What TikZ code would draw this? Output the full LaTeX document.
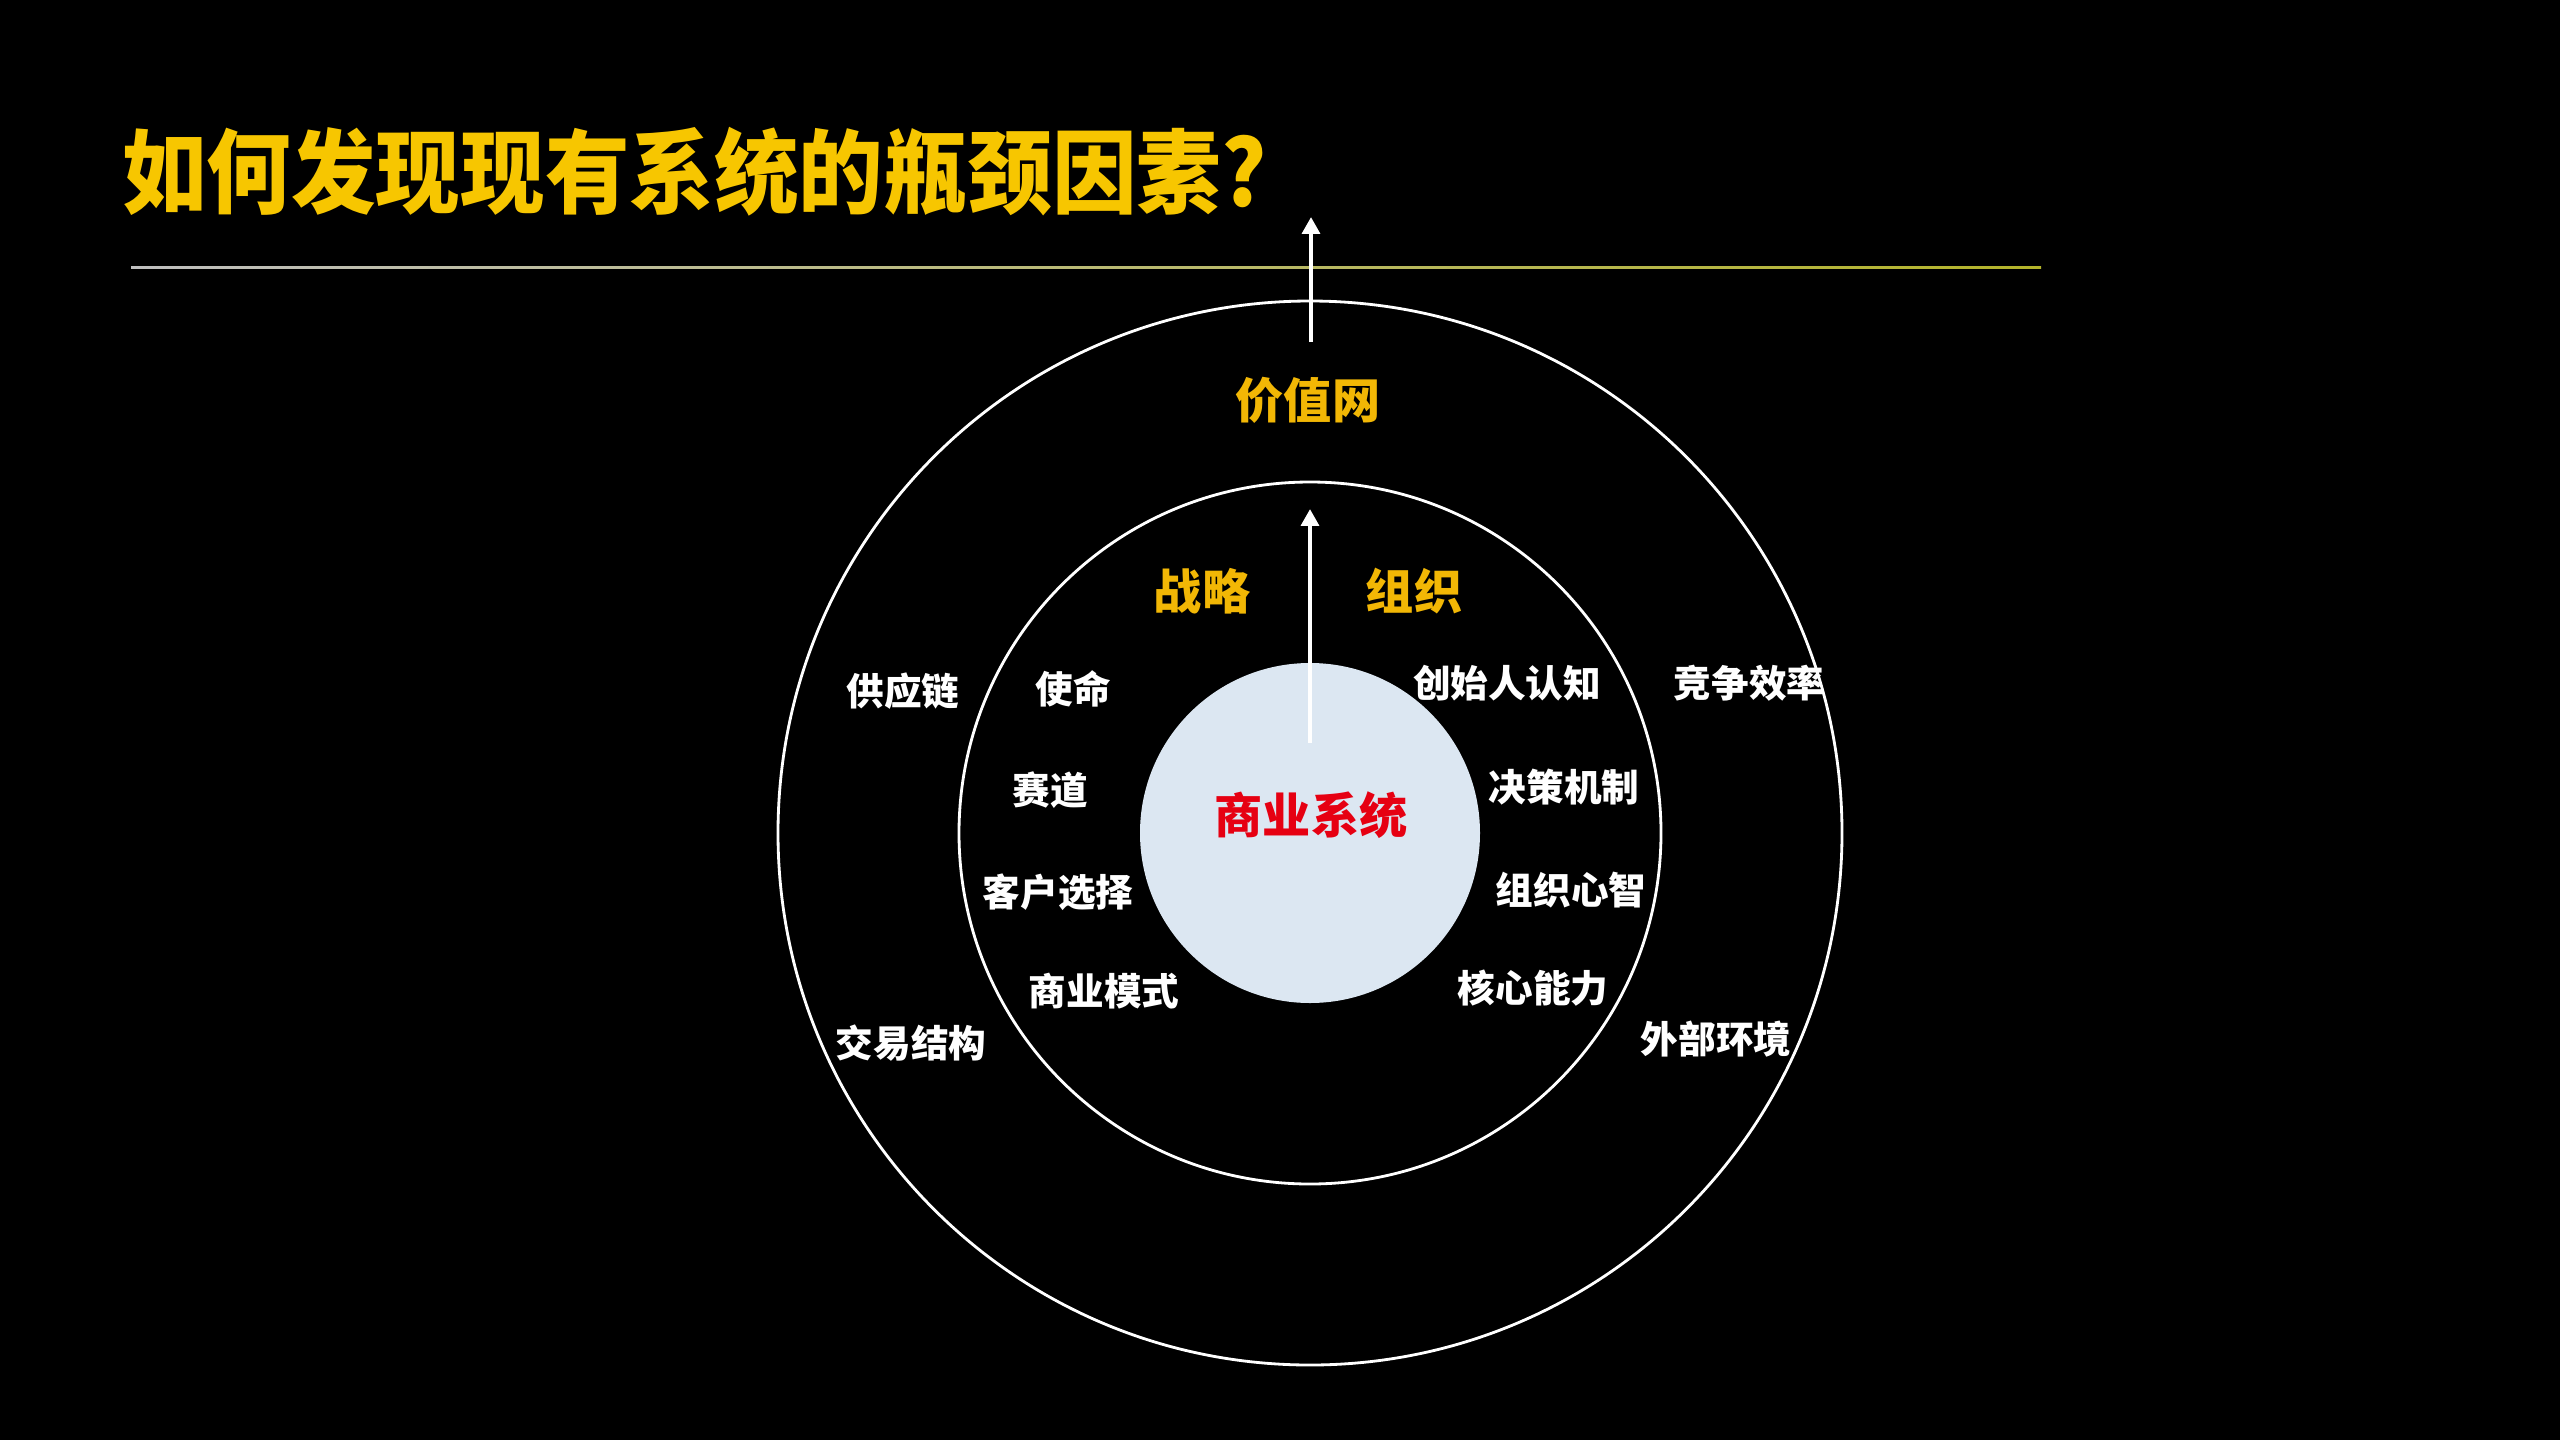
\documentclass[tikz,border=0pt]{standalone}
\usepackage{fontspec}
\setmainfont{Noto Sans CJK SC}
\newfontfamily\titlefont[FakeStretch=0.925]{Noto Sans CJK SC}
\usetikzlibrary{arrows.meta}

\definecolor{titleyellow}{HTML}{F7C600}
\definecolor{labelyellow}{HTML}{F2B705}
\definecolor{corered}{HTML}{E60012}
\definecolor{corefill}{HTML}{DCE7F2}
\definecolor{ruleolive}{HTML}{B4B42A}

\tikzset{
  ring/.style={circle, draw=white, line width=0.8pt, inner sep=0pt},
  whitelabel/.style={text=white, font=\fontsize{10.7}{12}\selectfont\bfseries},
  yellowlabel/.style={text=labelyellow, font=\fontsize{13.7}{15}\selectfont\bfseries},
  uparrow/.style={draw=white, line width=1.4pt, -{Triangle[width=5pt,length=4.8pt]}},
}

\begin{document}
\begin{tikzpicture}

    % Background
    \fill[black] (0,0) rectangle (25.6,-14.4);
    \useasboundingbox (0,0) rectangle (25.6,-14.4);

    % Title
    \node[anchor=west, text=titleyellow, font=\titlefont\fontsize{26}{30}\selectfont\bfseries] (title) at (1.10,-1.72) {如何发现现有系统的瓶颈因素?};
    \shade[left color=white!75!black, right color=ruleolive] (1.31,-2.66) rectangle (20.41,-2.685);

    % ================================
    % Rings

    \node[ring, minimum size=10.64cm] (outer) at (13.10,-8.33) {};
    \node[ring, minimum size=7.02cm] (middle) at (13.10,-8.33) {};
    \node[circle, fill=corefill, inner sep=0pt, minimum size=3.40cm] (core) at (13.10,-8.33) {};
    \node[text=corered, font=\fontsize{13.7}{15}\selectfont\bfseries] (coretext) at (13.11,-8.15) {商业系统};

    % ================================
    % Arrows

    \coordinate (valuebase) at (13.11,-3.42);
    \coordinate (valuetip) at (13.11,-2.17);
    \draw[uparrow] (valuebase) -- (valuetip);

    \coordinate (corebase) at (13.10,-7.43);
    \coordinate (coretip) at (13.10,-5.09);
    \draw[uparrow] (corebase) -- (coretip);

    % ================================
    % Yellow labels

    \node[yellowlabel] (valuenet) at (13.08,-4.00) {价值网};
    \node[yellowlabel] (strategy) at (12.02,-5.91) {战略};
    \node[yellowlabel] (organization) at (14.14,-5.91) {组织};

    % ================================
    % Strategy side

    \node[whitelabel] (mission) at (10.73,-6.89) {使命};
    \node[whitelabel] (track) at (10.50,-7.90) {赛道};
    \node[whitelabel] (customer) at (10.58,-8.92) {客户选择};
    \node[whitelabel] (model) at (11.04,-9.91) {商业模式};

    % Organization side
    \node[whitelabel] (founder) at (15.07,-6.83) {创始人认知};
    \node[whitelabel] (decision) at (15.64,-7.87) {决策机制};
    \node[whitelabel] (mindset) at (15.71,-8.90) {组织心智};
    \node[whitelabel] (ability) at (15.33,-9.88) {核心能力};

    % Value net
    \node[whitelabel] (supply) at (9.03,-6.91) {供应链};
    \node[whitelabel] (deal) at (9.11,-10.43) {交易结构};
    \node[whitelabel] (compete) at (17.49,-6.83) {竞争效率};
    \node[whitelabel] (outside) at (17.16,-10.39) {外部环境};

\end{tikzpicture}
\end{document}
